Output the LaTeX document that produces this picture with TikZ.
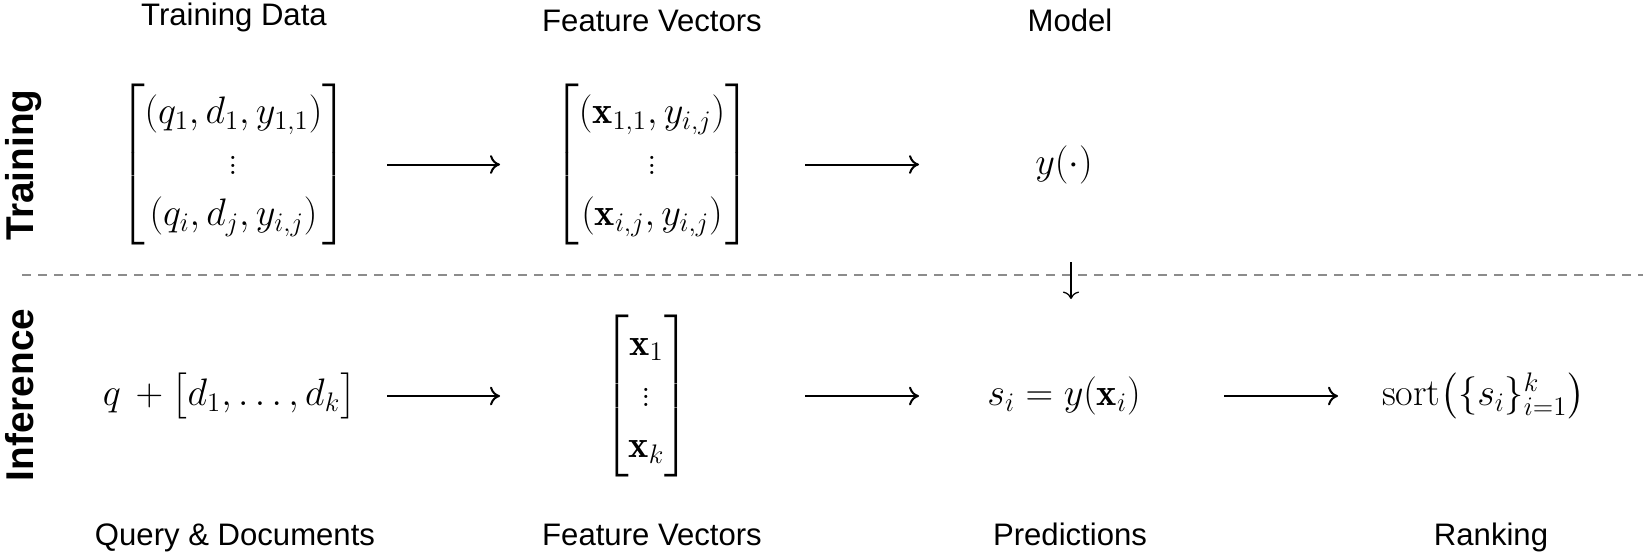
\RequirePackage{fix-cm}
\documentclass[tikz,border=0pt]{standalone}
\usepackage{amsmath}
\usepackage{graphicx}
\usepackage{fontspec}
\newfontfamily\helv{Liberation Sans}
\usetikzlibrary{arrows.meta}
\definecolor{sepgray}{RGB}{140,140,140}
\renewcommand{\arraystretch}{1.11}
\newcommand{\scmath}[1]{\scalebox{1.48}{$#1$}}
\begin{document}
\begin{tikzpicture}[x=0.8pt,y=-0.8pt,
  lbl/.style={font=\helv\fontsize{24.88}{30}\selectfont, inner sep=0pt},
  side/.style={font=\helv\bfseries\fontsize{31}{36}\selectfont, rotate=90, anchor=base, inner sep=0pt},
  mth/.style={font=\fontsize{20.7}{24.9}\selectfont, inner sep=0pt},
  arr/.style={line width=1.6pt, -{Computer Modern Rightarrow[length=8pt,width=15pt]}},
  darr/.style={line width=1pt, -{Computer Modern Rightarrow[length=6pt,width=13pt]}},
  sep/.style={draw=sepgray, line width=1.6pt, dash pattern=on 7pt off 5.8pt}]
\useasboundingbox (0,0) rectangle (1643,553);

% math nodes
\node[mth] (m1) at (233.5,164.5) {\scmath{\begin{bmatrix}(q_1,d_1,y_{1,1})\\ \vdots\\ (q_i,d_j,y_{i,j})\end{bmatrix}}};
\node[mth] (m2) at (652,164.5) {\scmath{\begin{bmatrix}(\mathbf{x}_{1,1},y_{i,j})\\ \vdots\\ (\mathbf{x}_{i,j},y_{i,j})\end{bmatrix}}};
\node[mth] (model) at (1064,164.5) {\scmath{y(\cdot)}};
\node[mth] (q) at (229.5,396) {\scmath{q\,+\bigl[d_1,\ldots,d_k\bigr]}};
\node[mth] (m3) at (646.5,396) {\scmath{\begin{bmatrix}\mathbf{x}_1\\ \vdots\\ \mathbf{x}_k\end{bmatrix}}};
\node[mth] (pred) at (1064,396) {\scmath{s_i=y\mathopen{}\left(\mathbf{x}_i\right)}};
\node[mth] (sort) at (1483.5,396) {\scmath{\operatorname{sort}\mathopen{}\left(\{s_i\}_{i=1}^{k}\right)}};

% side labels
\node[side] (st) at (33,165) {Training};
\node[side] (si) at (33,395) {Inference};

% top labels
\node[lbl, anchor=south] (tl1) at (234,32) {Training Data};
\node[lbl, anchor=south] (tl2) at (652,32) {Feature Vectors};
\node[lbl, anchor=south] (tl3) at (1070,32) {Model};

% bottom labels
\node[lbl, anchor=base] (bl1) at (235,545) {Query \& Documents};
\node[lbl, anchor=base] (bl2) at (652,545) {Feature Vectors};
\node[lbl, anchor=base] (bl3) at (1070,545) {Predictions};
\node[lbl, anchor=base] (bl4) at (1491,545) {Ranking};

% separator
\draw[sep] (22,275) -- (1643,275);

% arrows
\draw[arr, shorten <=122.8pt, shorten >=121.6pt] (m1.center) -- (m2.center);
\draw[arr, shorten <=122.4pt, shorten >=116pt] (m2.center) -- (model.center);
\draw[arr, shorten <=126pt, shorten >=117.2pt] (q.center) -- (m3.center);
\draw[arr, shorten <=126.8pt, shorten >=116pt] (m3.center) -- (pred.center);
\draw[arr, shorten <=128pt, shorten >=116.4pt] (pred.center) -- (sort.center);
\draw[darr, shorten <=78pt, shorten >=77.6pt] ([xshift=5.6pt]model.center) -- ([xshift=5.6pt]pred.center);
\end{tikzpicture}
\end{document}
